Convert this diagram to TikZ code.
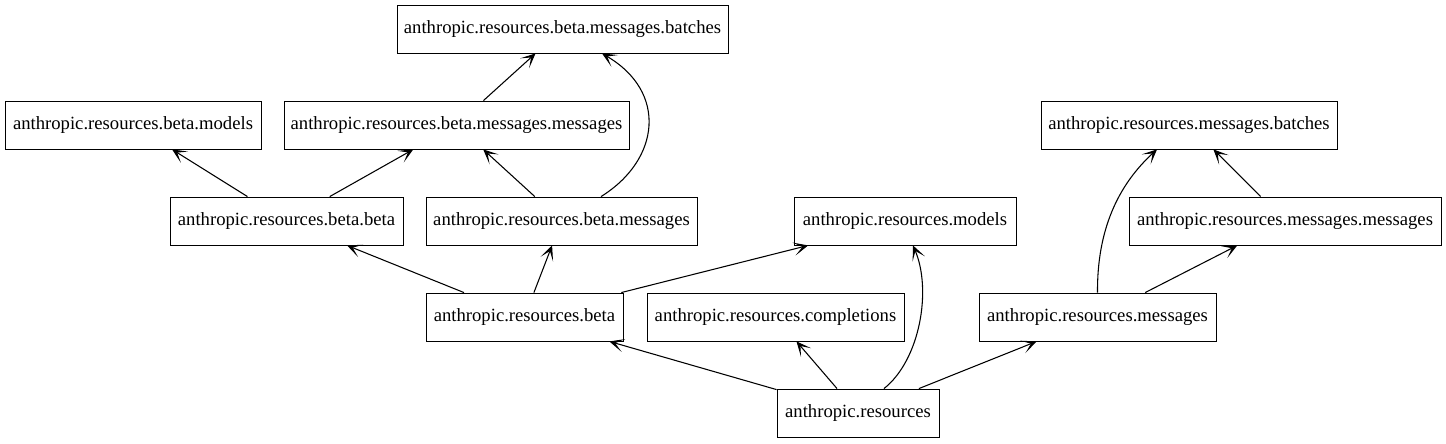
\documentclass[tikz,border=0pt]{standalone}
\usepackage{fontspec}
\setmainfont{Liberation Serif}
\usetikzlibrary{arrows.meta,calc}
\begin{document}
\begin{tikzpicture}[x=0.75pt,y=-0.75pt,
  box/.style={draw, line width=0.65pt, rectangle, minimum height=36pt, inner sep=0pt,
    font=\fontsize{14}{16}\selectfont},
  arr/.style={line width=0.8pt, -{Stealth[length=11pt,width=10pt,inset=6.5pt]}}]
\useasboundingbox (0,0) rectangle (1446,443);
\node[box, minimum width=248.25pt] (bmb) at (562.5,29) {anthropic.resources.beta.messages.batches};
\node[box, minimum width=192pt] (bmodels) at (133,125) {anthropic.resources.beta.models};
\node[box, minimum width=258.75pt] (bmm) at (456.5,125) {anthropic.resources.beta.messages.messages};
\node[box, minimum width=222pt] (mb) at (1189,125) {anthropic.resources.messages.batches};
\node[box, minimum width=174.75pt] (bb) at (286.5,221) {anthropic.resources.beta.beta};
\node[box, minimum width=203.25pt] (bm) at (561.5,221) {anthropic.resources.beta.messages};
\node[box, minimum width=166.5pt] (models) at (905,221) {anthropic.resources.models};
\node[box, minimum width=234pt] (mm) at (1285,221) {anthropic.resources.messages.messages};
\node[box, minimum width=147.75pt] (beta) at (524.5,317) {anthropic.resources.beta};
\node[box, minimum width=192.75pt] (compl) at (775.5,317) {anthropic.resources.completions};
\node[box, minimum width=177.75pt] (msgs) at (1097.5,317) {anthropic.resources.messages};
\node[box, minimum width=121.5pt] (res) at (858,413) {anthropic.resources};
% straight edges
\draw[arr] (bmm) -- (bmb);
\draw[arr] (bb) -- (bmodels);
\draw[arr] (bb) -- (bmm);
\draw[arr] (bm) -- (bmm);
\draw[arr] (beta) -- (bb);
\draw[arr] (beta) -- (bm);
\draw[arr] (beta) -- (models);
\draw[arr] (res) -- (beta);
\draw[arr] (res) -- (compl);
\draw[arr] (res) -- (msgs);
\draw[arr] (msgs) -- (mm);
\draw[arr] (mm) -- (mb);
% curved edges
\draw[arr] ($(bm.north)+(39.5,0)$) .. controls (660,160) and (668,92) .. ($(bmb.south)+(39.5,0)$);
\draw[arr] ($(res.north)+(26,0)$) .. controls (920,360) and (932,290) .. ($(models.south)+(8,0)$);
\draw[arr] (msgs.north) .. controls (1097,230) and (1118,185) .. ($(mb.south)+(-32,0)$);
\end{tikzpicture}
\end{document}
